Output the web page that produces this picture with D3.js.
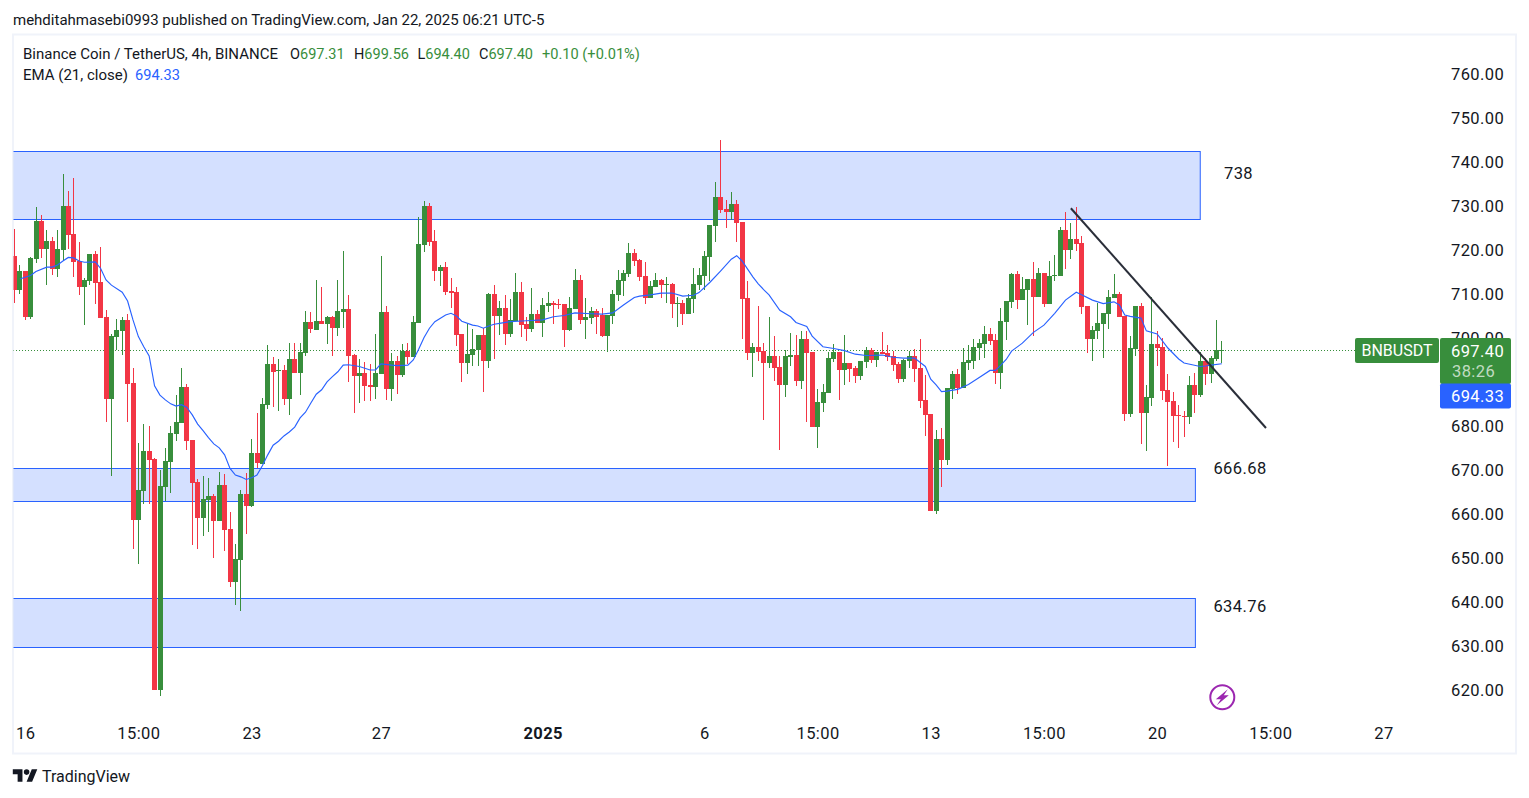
<!DOCTYPE html>
<html>
<head>
<meta charset="utf-8">
<script src="https://cdn.jsdelivr.net/npm/d3@7"></script>
<style>
  html, body { margin: 0; padding: 0; background: #fff; overflow: hidden; }
  text { font-family: Roboto, sans-serif; fill: #131722; }
  .big { font-size: 16.5px; letter-spacing: 0.4px; }
</style>
</head>
<body>
<script>
// candles, oldest first
var opens = [
  718.8,711.1,715.4,705.0,718.2,726.8,720.4,722.3,715.9,720.2,
  730.2,723.8,717.7,711.8,713.2,719.3,712.9,705.0,686.3,700.4,
  701.8,704.3,689.9,658.8,665.4,674.5,672.6,620.1,666.3,672.0,
  678.4,680.9,689.0,677.0,667.4,659.2,663.3,664.3,658.6,666.8,
  656.7,644.7,649.7,664.7,662.0,674.0,671.5,684.9,694.3,692.7,
  692.9,686.3,695.4,692.2,696.8,703.8,702.0,704.0,703.4,705.0,
  702.5,706.1,706.8,696.3,691.5,692.2,689.5,689.0,692.0,706.1,
  688.6,695.0,691.8,697.2,695.8,703.6,721.3,730.2,722.2,715.4,
  716.3,710.9,710.6,701.1,694.5,696.3,697.4,700.9,695.0,710.2,
  705.2,707.0,701.1,704.1,710.7,703.4,702.2,705.6,703.6,707.5,
  708.1,707.9,707.9,702.0,706.8,713.4,704.3,704.7,706.3,705.4,
  700.6,705.2,710.0,713.2,714.7,719.5,717.9,714.3,709.3,711.8,
  713.4,712.2,712.5,707.9,708.1,705.6,709.1,712.2,714.3,718.6,
  725.7,732.3,729.5,728.8,730.7,726.6,709.3,696.8,698.1,697.2,
  694.5,696.1,693.6,689.5,695.9,696.3,690.4,699.9,697.0,679.9,
  685.4,687.7,695.4,697.0,692.9,694.5,693.4,691.5,694.7,697.5,
  695.2,697.0,696.8,696.1,694.3,690.9,695.0,696.1,693.4,686.1,
  682.9,660.8,677.2,672.4,688.6,692.0,688.8,694.5,695.0,697.9,
  698.8,701.1,699.7,692.2,703.8,708.4,714.7,708.8,711.1,713.6,
  709.5,715.0,707.9,714.3,714.3,724.7,720.2,722.7,721.8,707.5,
  700.0,701.8,703.4,705.6,709.3,710.2,705.2,682.9,697.7,707.5,
  683.1,686.5,698.8,698.1,688.3,685.9,682.7,682.5,682.2,689.5,
  687.2,694.9,692.0,695.4,697.31
];
var highs = [
  725.0,716.8,715.4,718.6,730.0,728.2,724.8,723.2,724.8,737.5,
  733.6,736.6,722.0,713.8,719.3,720.0,720.9,706.6,701.1,704.5,
  705.0,705.6,693.4,676.3,680.6,680.2,672.9,670.2,675.2,680.2,
  687.2,693.4,689.7,677.0,668.1,668.8,668.3,664.7,669.7,669.3,
  660.6,653.3,665.6,669.5,677.2,683.1,686.5,698.6,695.8,695.4,
  694.0,699.0,699.0,699.0,706.3,706.1,713.4,711.8,705.2,705.2,
  713.4,720.0,710.0,696.5,695.4,694.7,694.3,701.1,718.8,707.5,
  696.8,696.1,698.8,699.0,705.2,727.7,731.3,730.9,724.7,716.8,
  717.5,713.8,711.8,701.1,703.4,702.2,700.9,702.5,710.4,712.2,
  708.6,710.0,709.1,715.0,712.9,705.0,711.6,706.6,709.3,710.7,
  708.6,709.1,707.9,709.5,715.9,714.5,709.3,707.2,706.8,707.0,
  705.4,711.1,715.7,715.7,721.8,720.4,718.2,717.5,713.2,715.0,
  713.6,714.1,712.7,709.5,708.8,710.2,716.1,716.1,720.0,725.9,
  735.7,745.2,731.6,733.4,731.6,726.6,713.2,699.0,707.5,699.0,
  705.0,700.6,696.1,697.5,701.3,700.9,701.8,701.8,697.0,688.6,
  689.7,697.0,698.8,697.0,700.9,694.5,693.8,695.0,698.1,697.9,
  697.0,701.5,698.6,697.2,694.7,695.4,697.2,697.7,699.9,691.8,
  682.9,679.3,679.7,688.8,692.7,693.1,697.9,698.6,699.9,699.9,
  702.9,702.5,701.1,707.0,708.6,715.0,715.4,714.1,713.6,717.5,
  716.1,715.0,717.7,719.1,725.4,728.8,726.3,730.0,723.4,707.5,
  702.9,708.1,705.9,711.1,714.7,710.7,705.2,700.6,707.5,708.1,
  689.5,709.5,701.8,700.2,692.0,687.9,685.0,683.6,691.5,692.2,
  697.0,695.6,696.1,704.3,699.56
];
var lows = [
  708.2,710.2,704.3,704.5,717.2,718.4,712.2,714.5,714.1,717.9,
  720.4,714.1,710.0,703.1,712.2,707.9,704.7,681.1,668.8,697.4,
  696.3,681.1,652.2,648.8,662.4,662.4,620.1,618.8,663.1,664.9,
  676.8,680.9,674.7,653.1,652.2,655.2,656.1,650.2,658.6,651.7,
  643.6,639.5,638.1,655.6,661.7,670.6,671.5,684.0,684.5,683.6,
  684.9,682.7,692.2,687.2,696.1,701.3,702.0,703.4,698.8,696.1,
  700.6,702.5,690.2,683.1,685.4,685.9,685.9,686.3,692.0,686.1,
  685.9,687.4,691.3,694.3,695.8,703.6,719.7,721.1,713.1,712.0,
  710.0,707.0,698.4,690.2,692.0,693.8,693.8,687.9,693.4,695.4,
  700.9,698.6,700.4,704.1,700.4,699.5,701.6,703.6,700.4,706.1,
  703.4,706.8,698.1,701.8,706.8,703.4,700.0,703.4,701.1,700.4,
  697.0,703.4,708.6,709.7,714.1,716.6,713.2,707.9,709.3,711.8,
  709.3,708.1,704.7,702.7,703.1,705.6,705.9,711.1,711.1,713.2,
  722.0,728.6,725.2,727.0,722.0,700.0,695.2,691.3,695.0,681.5,
  693.4,690.4,674.7,686.8,693.8,689.3,688.6,681.1,679.9,675.2,
  683.4,687.7,694.7,686.1,689.5,690.2,690.0,690.6,693.4,694.5,
  693.6,696.5,695.0,692.7,690.0,690.2,693.4,690.2,684.3,677.9,
  660.8,660.2,666.3,671.3,686.3,687.4,688.8,692.9,693.1,695.2,
  695.6,698.6,689.7,688.6,699.7,707.0,706.8,708.8,703.1,700.6,
  709.5,707.2,707.9,713.1,714.3,715.9,718.1,720.0,705.6,696.8,
  695.0,700.0,695.6,702.2,709.3,705.0,681.3,682.2,696.1,676.1,
  674.5,684.7,693.8,686.1,671.1,676.5,675.2,677.7,680.6,683.1,
  686.8,689.5,689.9,694.9,694.40
];
var closes = [
  711.1,715.4,705.0,718.4,726.8,720.4,722.3,715.9,720.4,730.2,
  723.6,717.5,711.8,713.4,719.3,712.7,704.7,686.3,700.6,702.0,
  704.3,689.7,658.8,665.6,674.5,672.4,620.1,666.5,672.2,678.6,
  681.1,689.0,676.8,667.2,659.2,663.6,664.3,658.6,666.8,656.5,
  644.7,649.9,664.7,662.0,674.0,671.8,685.2,694.3,692.4,692.9,
  686.3,695.4,692.2,697.0,703.8,702.2,704.0,703.4,705.0,702.5,
  706.3,706.8,696.1,691.5,692.2,689.3,689.0,692.2,706.1,688.6,
  695.0,691.8,697.2,695.8,703.8,721.6,730.2,722.0,715.4,716.3,
  710.6,710.4,700.9,694.5,696.5,697.7,700.9,695.0,710.2,705.2,
  707.0,701.1,704.3,710.7,703.1,702.2,705.6,703.6,707.7,708.1,
  707.7,707.7,702.0,707.0,713.4,704.3,705.0,706.3,705.0,700.6,
  705.4,710.2,713.4,715.0,719.5,717.7,714.1,709.3,712.0,713.4,
  712.2,712.5,707.9,708.1,705.6,709.3,712.5,714.5,718.8,725.9,
  732.3,729.3,728.8,730.7,726.3,709.1,696.8,698.1,697.0,694.5,
  696.1,693.4,689.5,696.1,696.3,690.4,699.9,696.8,679.9,685.6,
  687.9,695.6,697.0,692.9,694.5,693.1,691.5,695.0,697.5,695.2,
  697.0,696.5,695.9,694.0,690.9,695.2,696.1,693.1,685.9,682.7,
  660.8,677.2,672.4,688.8,692.0,688.8,694.7,695.2,698.1,699.0,
  701.1,699.5,692.2,704.1,708.6,714.7,708.8,711.3,713.6,709.5,
  715.0,707.9,714.3,714.5,724.7,720.2,722.7,721.6,707.2,700.0,
  702.0,703.6,705.9,709.5,710.2,705.0,682.9,697.9,707.5,683.1,
  686.8,698.8,697.9,688.1,685.6,682.5,682.5,682.2,689.5,687.2,
  694.9,692.0,695.6,697.4,697.40
];

// EMA 21, read at these candles
var emaBars = [
  1,3,4,6,7,8,9,10,11,12,13,15,16,17,18,20,21,22,23,24,25,26,27,28,29,30,31,32,33,
  34,35,36,37,38,39,40,41,42,43,44,45,46,47,48,49,50,51,52,53,54,55,56,57,58,59,60,
  61,62,64,66,67,68,70,71,73,74,75,76,77,78,80,81,82,83,85,86,87,88,89,90,
  92,95,98,100,102,104,107,109,111,113,115,116,118,120,122,124,126,127,129,131,133,134,135,137,138,
  139,140,142,144,145,147,148,150,152,154,156,158,161,163,165,167,169,170,171,172,173,175,177,179,181,
  182,183,184,185,187,189,191,193,195,197,198,200,202,204,205,206,207,209,210,212,214,216,217,220,221,222,224
];
var emaValues = [
  713.6,714.4,715.3,716.3,716.3,716.8,717.7,718.5,718.4,717.7,717.4,717.5,716.0,713.4,712.2,710.6,708.6,704.3,700.5,698.2,696.1,689.3,687.2,686.1,685.2,684.7,685.0,684.4,682.7,
  680.6,679.1,677.5,676.1,675.2,673.6,670.5,669.0,668.6,668.0,668.4,669.0,671.1,673.6,675.8,676.7,677.9,678.8,679.9,682.0,683.3,685.4,687.4,688.4,690.2,691.4,692.5,
  694.0,694.1,693.7,692.9,692.9,694.3,694.0,693.9,694.0,695.2,697.6,700.3,702.4,703.9,705.4,705.8,705.2,704.0,703.1,702.9,702.4,702.9,703.3,703.5,
  703.9,704.1,704.3,705.0,705.3,705.9,705.7,705.6,705.9,707.7,709.4,709.7,710.0,710.4,710.4,709.7,709.9,710.5,712.8,715.4,718.1,718.9,717.7,714.1,712.5,
  711.2,710.0,706.5,705.0,703.7,702.8,700.6,698.2,697.8,697.3,696.5,696.2,696.3,695.8,695.6,695.6,693.7,690.8,689.5,688.0,688.1,688.5,689.6,691.2,692.8,
  692.8,694.0,695.3,697.2,699.0,701.4,703.1,705.8,708.8,710.6,710.0,708.8,708.0,708.4,707.7,705.4,705.1,704.7,701.8,701.1,697.9,695.4,694.5,693.7,693.8,694.0,694.33
];

// axis ticks (690 sits fully behind the price tags in the original)
var priceTicks = [620,630,640,650,660,670,680,700,710,720,730,740,750,760];
var timeTickBars = [2,23,44,68,98,128,149,170,191,212,233,254];
var timeTickLabels = ['16','15:00','23','27','2025','6','15:00','13','15:00','20','15:00','27'];

// drawn zones and notes
var zoneTops = [742.6,670.5,641.0];
var zoneBottoms = [727.2,663.0,629.8];
var zoneEndBars = [220,219.1,219.1];
var noteLabels = ['738','666.68','634.76'];
var trendBars = [196,232.2];
var trendPrices = [729.7,679.7];

var lastPrice = 697.40, lastEma = 694.33;

var w = 1529, h = 798;
var green = '#388e3c', red = '#f23645', blue = '#2962ff';

var x = d3.scaleLinear().domain([0,224]).range([14.4,1221.8]);
var y = d3.scaleLinear().domain([620,760]).range([690.5,75]);

var svg = d3.select('body').append('svg')
  .attr('width', w)
  .attr('height', h)
  .style('display', 'block');

// header line above the frame
svg.append('text').attr('x', 13).attr('y', 24.5).attr('font-size', 15)
  .text('mehditahmasebi0993 published on TradingView.com, Jan 22, 2025 06:21 UTC-5');

// frame
svg.append('rect')
  .attr('x', 13).attr('y', 34.5).attr('width', 1503).attr('height', 719)
  .attr('fill', 'none').attr('stroke', '#f0f3fa').attr('stroke-width', 2);

svg.append('clipPath').attr('id', 'pane').append('rect')
  .attr('x', 13.5).attr('y', 36).attr('width', 1502).attr('height', 717);

var pane = svg.append('g').attr('clip-path', 'url(#pane)');

// zones
pane.selectAll('rect.zone').data(zoneTops).enter().append('rect')
  .attr('class', 'zone')
  .attr('x', x(-3))
  .attr('y', function(d) { return Math.round(y(d)) + 0.5; })
  .attr('width', function(d, i) { return x(zoneEndBars[i]) - x(-3); })
  .attr('height', function(d, i) { return Math.round(y(zoneBottoms[i])) - Math.round(y(d)); })
  .attr('fill', 'rgba(41,98,255,0.2)')
  .attr('stroke', blue)
  .attr('stroke-width', 1);

// last price dotted line
pane.append('line')
  .attr('x1', 13).attr('x2', 1355)
  .attr('y1', Math.floor(y(lastPrice)) + 0.5).attr('y2', Math.floor(y(lastPrice)) + 0.5)
  .attr('stroke', green).attr('stroke-dasharray', '1 2');

// candles, snapped to whole pixel columns
var bars = d3.range(opens.length);
var barColor = function(i) { return closes[i] >= opens[i] ? green : red; };
var barCol = function(i) { return Math.round(x(i) - 0.4); };

pane.selectAll('rect.wick').data(bars).enter().append('rect')
  .attr('class', 'wick')
  .attr('x', barCol)
  .attr('width', 1)
  .attr('y', function(i) { return y(highs[i]); })
  .attr('height', function(i) { return y(lows[i]) - y(highs[i]); })
  .attr('fill', barColor)
  .attr('shape-rendering', 'crispEdges');

pane.selectAll('rect.body').data(bars).enter().append('rect')
  .attr('class', 'body')
  .attr('x', function(i) { return barCol(i) - 2; })
  .attr('width', 5)
  .attr('y', function(i) { return y(Math.max(opens[i], closes[i])); })
  .attr('height', function(i) { return Math.max(1, Math.abs(y(opens[i]) - y(closes[i]))); })
  .attr('fill', barColor)
  .attr('shape-rendering', 'crispEdges');

// EMA line
var emaLine = d3.line()
  .x(function(d, i) { return x(emaBars[i]); })
  .y(function(d) { return y(d); });

pane.append('path')
  .attr('d', emaLine(emaValues))
  .attr('fill', 'none')
  .attr('stroke', blue)
  .attr('stroke-width', 1.15);

// trend line
pane.append('line')
  .attr('x1', x(trendBars[0])).attr('y1', y(trendPrices[0]))
  .attr('x2', x(trendBars[1])).attr('y2', y(trendPrices[1]))
  .attr('stroke', '#2a2e39').attr('stroke-width', 2);

// zone notes
svg.selectAll('text.note').data(noteLabels).enter().append('text')
  .attr('class', 'note big')
  .attr('x', function(d, i) { return i === 0 ? 1238.5 : 1240; })
  .attr('y', function(d, i) { return [179, 474, 612][i]; })
  .attr('text-anchor', 'middle')
  .text(function(d) { return d; });

// price axis
var priceAxis = svg.append('g')
  .attr('transform', 'translate(1451,-0.5)')
  .call(d3.axisRight(y).tickValues(priceTicks).tickSize(0).tickPadding(0)
    .tickFormat(d3.format('.2f')));
priceAxis.select('.domain').remove();
priceAxis.selectAll('text').attr('class', 'big').attr('font-size', null).attr('font-family', null);

// time axis
var timeAxis = svg.append('g')
  .attr('transform', 'translate(0,727.5)')
  .call(d3.axisBottom(x).tickValues(timeTickBars).tickSize(0).tickPadding(0)
    .tickFormat(function(d, i) { return timeTickLabels[i]; }));
timeAxis.select('.domain').remove();
timeAxis.selectAll('text').attr('class', 'big')
  .attr('font-weight', function(d, i) { return timeTickLabels[i] === '2025' ? 700 : 400; });

// legend
svg.append('text').attr('x', 23).attr('y', 59).attr('font-size', 15)
  .text('Binance Coin / TetherUS, 4h, BINANCE');
var legendKeys = ['O','H','L','C'];
var legendVals = ['697.31','699.56','694.40','697.40'];
var legendX = [290,354,417.5,479];
legendKeys.forEach(function(k, i) {
  var t = svg.append('text').attr('x', legendX[i]).attr('y', 59).attr('font-size', 14.5);
  t.append('tspan').text(k);
  t.append('tspan').style('fill', green).text(legendVals[i]);
});
svg.append('text').attr('x', 542).attr('y', 59).attr('font-size', 14.6)
  .style('fill', green).text('+0.10 (+0.01%)');
svg.append('text').attr('x', 23).attr('y', 80).attr('font-size', 15).text('EMA (21, close)');
svg.append('text').attr('x', 135).attr('y', 80).attr('font-size', 14.6)
  .style('fill', blue).text(d3.format('.2f')(lastEma));

// price tags on the axis
svg.append('rect').attr('x', 1355).attr('y', 338).attr('width', 84).attr('height', 25)
  .attr('rx', 2).attr('fill', green);
svg.append('rect').attr('x', 1440).attr('y', 338).attr('width', 71).attr('height', 46)
  .attr('rx', 2).attr('fill', green);
svg.append('rect').attr('x', 1440).attr('y', 383.5).attr('width', 71).attr('height', 25)
  .attr('rx', 2).attr('fill', blue);
svg.append('text').attr('x', 1397).attr('y', 356).attr('text-anchor', 'middle')
  .attr('font-size', 16).style('fill', '#fff').text('BNBUSDT');
svg.append('text').attr('class', 'big').attr('x', 1451).attr('y', 356.5)
  .style('fill', '#fff').text(d3.format('.2f')(lastPrice));
svg.append('text').attr('class', 'big').attr('x', 1452).attr('y', 377)
  .style('fill', 'rgba(255,255,255,0.7)').text('38:26');
svg.append('text').attr('class', 'big').attr('x', 1451).attr('y', 401.5)
  .style('fill', '#fff').text(d3.format('.2f')(lastEma));

// purple bolt icon
var bolt = svg.append('g').attr('transform', 'translate(1222.3,697.3)');
bolt.append('circle').attr('r', 12).attr('fill', 'none').attr('stroke', '#9c27b0').attr('stroke-width', 2);
bolt.append('path').attr('d', 'M5.5,-8 L-6.5,2 L-1.5,2 L-5.5,8 L6.5,-2 L1.5,-2 Z').attr('fill', '#9c27b0');

// footer logo
var logo = svg.append('g').attr('transform', 'translate(12.8,766.6) scale(0.69)').attr('fill', '#131722');
logo.append('path').attr('d', 'M14 22H7V11H0V4h14v18zM28 22h-8l7.5-18h8L28 22z');
logo.append('circle').attr('cx', 20).attr('cy', 8).attr('r', 4);
svg.append('text').attr('x', 42).attr('y', 782).attr('font-size', 16).text('TradingView');
</script>
</body>
</html>
